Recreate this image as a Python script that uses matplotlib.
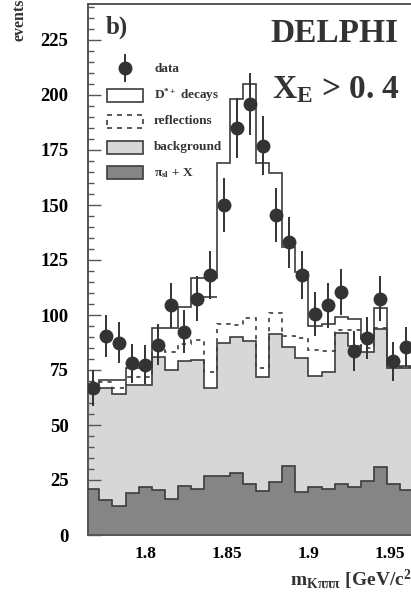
import numpy as np
import matplotlib
matplotlib.use('Agg')
import matplotlib.pyplot as plt
from matplotlib.patches import Rectangle
from matplotlib.lines import Line2D
from matplotlib.ticker import MultipleLocator

plt.rcParams['font.family'] = ['Liberation Serif', 'DejaVu Serif']
plt.rcParams['font.weight'] = 'bold'
plt.rcParams['mathtext.fontset'] = 'custom'
plt.rcParams['mathtext.rm'] = 'Liberation Serif:bold'
plt.rcParams['mathtext.it'] = 'Liberation Serif:italic:bold'
plt.rcParams['mathtext.bf'] = 'Liberation Serif:bold'

# ---------------- data ----------------
bin_lo = 1.764
bin_w = 0.008
n_bins = 25

data = [67, 90.5, 87.5, 78, 77.5, 86.5, 104.5, 92.5, 107.5, 118, 150, 185, 196,
        177, 145.5, 133, 118, 100.5, 104.5, 110.5, 83.5, 89.5, 107.5, 79, 85.5]
data_err = [8.2, 9.5, 9.4, 8.8, 8.8, 9.3, 10.2, 9.6, 10.4, 10.9, 12.2, 13.6, 14.0,
            13.3, 12.1, 11.5, 10.9, 10.0, 10.2, 10.5, 9.1, 9.5, 10.4, 8.9, 9.2]
total_top = [68, 70.5, 70.5, 76, 76, 94, 94, 103.5, 117, 117, 169, 198, 205,
             169, 164.5, 131, 119.5, 95, 96, 99, 98, 89, 103, 77, 77]
refl_top = [67, 69.5, 67, 72, 72, 84, 83, 87, 88.5, 74, 96, 95.5, 98.5,
            76, 101, 90.5, 89.5, 84, 83.5, 93, 93, 85, 94, 76.5, 76.5]
bkg_top = [66, 67, 64, 68, 68, 81, 75, 79, 79.5, 67, 87.5, 90, 88,
           72, 91.5, 85.5, 80.5, 72.5, 74, 92, 86, 83, 93.5, 76, 76]
pisl_top = [21, 16, 13, 19, 22, 20.5, 16.5, 22.5, 21, 27, 27, 28, 23,
            20, 24, 31.5, 19.5, 22, 21, 23, 22, 24.5, 31, 23, 20.5]
# extra inner outline visible in the D* band
inner_bins = [8, 9]
inner_vals = [108, 108]

y_ticks = [0, 25, 50, 75, 100, 125, 150, 175, 200, 225]
x_ticks = [1.80, 1.85, 1.90, 1.95]
x_tick_labels = ['1.8', '1.85', '1.9', '1.95']

legend_labels = ['data', r'D$^{*+}$ decays', 'reflections', 'background',
                 r'$\mathrm{\pi}_{\mathrm{sl}}$ + X']

# ---------------- figure ----------------
W, H = 411, 594
fig = plt.figure(figsize=(W / 100, H / 100), dpi=100)

x0, x1 = 1.765, 1.975
px_per_gev = 1633.0
ax_left = 88 / W
ax_w = (x1 - x0) * px_per_gev / W
ax_bot = (H - 535) / H
ax_h = (535 - 4) / H
ax = fig.add_axes([ax_left, ax_bot, ax_w, ax_h])

edges = bin_lo + bin_w * np.arange(n_bins + 1)
centers = 0.5 * (edges[:-1] + edges[1:])

light = '#d7d7d7'
dark = '#858585'
lc = '#3c3c3c'
lw = 1.2

ax.stairs(bkg_top, edges, baseline=0, fill=True, color=light, zorder=1)
ax.stairs(pisl_top, edges, baseline=0, fill=True, color=dark, zorder=2)
ax.stairs(bkg_top, edges, baseline=None, color=lc, lw=lw, zorder=3)
ax.stairs(pisl_top, edges, baseline=None, color=lc, lw=lw, zorder=3)
ax.stairs(refl_top, edges, baseline=None, color=lc, lw=lw,
          linestyle=(0, (2.5, 3)), zorder=3)
ax.stairs(total_top, edges, baseline=None, color=lc, lw=lw, zorder=4)
ax.hlines(inner_vals, edges[inner_bins], edges[np.array(inner_bins) + 1],
          color=lc, lw=lw, zorder=4)

ax.errorbar(centers, data, yerr=data_err, fmt='o', ms=9, color='#333333',
            ecolor='#333333', elinewidth=1.4, capsize=0, zorder=6)

ax.set_xlim(x0, x1)
ax.set_ylim(0, (535 - 4) / 2.2)
ax.set_yticks(y_ticks)
ax.yaxis.set_minor_locator(MultipleLocator(5))
ax.set_xticks(x_ticks)
ax.set_xticklabels(x_tick_labels)
ax.xaxis.set_minor_locator(MultipleLocator(0.01))
ax.tick_params(which='major', direction='in', length=9, width=1.0,
               color='#555555')
ax.tick_params(which='minor', direction='in', length=4.5, width=1.0,
               color='#555555')
ax.tick_params(axis='y', pad=14, labelsize=13.5)
ax.tick_params(axis='x', pad=8, labelsize=12.5)
ax.tick_params(top=False, right=False, which='both')
for s in ['left', 'bottom', 'top', 'right']:
    ax.spines[s].set_color('#555555')
    ax.spines[s].set_linewidth(1.4)

# ---------------- texts ----------------
def fx(px):
    return px / W

def fy(py):
    return 1 - py / H

fig.text(fx(19), fy(20), 'events', rotation=90, ha='center', va='center',
         fontsize=11.5, color='#333333')
fig.text(fx(106), fy(27), 'b)', ha='left', va='center', fontsize=18, color='#333333')
fig.text(fx(398), fy(33), 'DELPHI', ha='right', va='center', fontsize=24,
         color='#333333')
fig.text(fx(272), fy(90), r'X$_{\mathrm{E}}$ > 0. 4', ha='left', va='center',
         fontsize=24, color='#333333')
fig.text(fx(290), fy(580), r'm$_{\mathrm{K\pi\pi\pi}}$ [GeV/c$^{2}$]', ha='left',
         va='center', fontsize=14, color='#333333')

# ---------------- legend (manual) ----------------
bx, bw, bh = 107, 36, 13
label_x = 154
# data marker
fig.add_artist(Line2D([fx(125), fx(125)], [fy(55), fy(81)], color='#333333', lw=1.4))
fig.add_artist(Line2D([fx(125)], [fy(68)], marker='o', ms=9, color='#333333'))
fig.text(fx(label_x), fy(69), legend_labels[0], ha='left', va='center', fontsize=9.5,
         color='#333333')
box_rows = [95, 121, 147, 173]
box_styles = [
    dict(facecolor='white', edgecolor=lc, linestyle='-'),
    dict(facecolor='white', edgecolor=lc, linestyle=(0, (3, 3))),
    dict(facecolor=light, edgecolor=lc, linestyle='-'),
    dict(facecolor=dark, edgecolor=lc, linestyle='-'),
]
for row, st, lab in zip(box_rows, box_styles, legend_labels[1:]):
    fig.add_artist(Rectangle((fx(bx), fy(row + bh / 2)), bw / W, bh / H,
                             transform=fig.transFigure, lw=lw, **st))
    fig.text(fx(label_x), fy(row), lab, ha='left', va='center', fontsize=9.5,
             color='#333333')

fig.savefig('out.png', dpi=100)
